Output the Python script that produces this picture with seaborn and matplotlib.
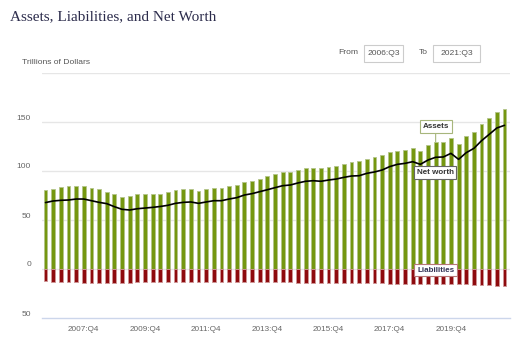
import matplotlib
matplotlib.use("Agg")
import matplotlib.pyplot as plt
import matplotlib.transforms as mtransforms
from matplotlib.patches import Rectangle
import numpy as np
import pandas as pd
import seaborn as sns

# Household balance sheet, quarterly, trillions of dollars (2006:Q3 - 2021:Q3)
start_year, start_q = 2006, 3
assets = [80.6, 81.9, 83.3, 84.4, 85.0, 85.0, 82.7, 81.3, 78.9, 76.5, 73.8, 74.8, 76.2, 76.2, 76.9, 76.9,
          78.2, 80.3, 81.3, 81.3, 79.6, 81.3, 82.7, 82.7, 84.7, 85.7, 88.4, 89.8, 92.2, 95.2, 96.9,
          99.0, 99.0, 101.0, 102.7, 103.4, 102.7, 104.1, 105.4, 107.1, 109.2, 109.9, 112.2, 114.3, 116.7, 119.2,
          120.4, 121.8, 123.8, 120.1, 126.2, 129.6, 129.9, 133.3, 127.2, 136.0, 140.1, 148.0, 154.1, 159.9, 163.0]
liabilities = [-12.7, -12.8, -13.5, -13.6, -13.7, -14.2, -14.3, -14.3, -14.2, -14.0, -13.9,
               -13.8, -13.7, -13.6, -13.5, -13.5, -13.4, -13.4, -13.3, -13.3, -13.3,
               -13.3, -13.3, -13.3, -13.3, -13.3, -13.4, -13.4, -13.5, -13.5, -13.6,
               -13.7, -13.7, -13.8, -13.9, -14.0, -14.0, -14.1, -14.2, -14.3, -14.4,
               -14.5, -14.5, -14.6, -14.7, -14.8, -14.9, -15.0,
               -15.1, -15.2, -15.3, -15.4, -15.5, -15.6, -15.7, -15.8,
               -16.0, -16.3, -16.6, -16.9, -17.2]
net_worth = [67.8, 69.4, 70.1, 70.4, 71.4, 71.4, 69.7, 68.0, 66.7, 63.6, 60.9, 60.2, 61.5, 62.2, 62.9, 63.8,
             65.0, 67.0, 68.0, 68.4, 67.0, 68.4, 69.7, 69.7, 71.4, 72.8, 75.5, 76.9, 78.9, 80.9, 83.0,
             85.0, 85.7, 87.8, 89.5, 90.1, 89.5, 90.8, 91.8, 93.5, 94.9, 95.2, 97.6, 99.0, 101.0, 104.5,
             106.8, 107.8, 109.5, 106.8, 111.2, 114.0, 114.3, 118.0, 111.9, 118.7, 123.1, 130.9, 137.4, 143.9, 146.6]

tick_quarters = ["2007:Q4", "2009:Q4", "2011:Q4", "2013:Q4", "2015:Q4", "2017:Q4", "2019:Q4"]
y_ticks = [150, 100, 50, 0, -50]
y_tick_labels = ["150", "100", "50", "0", "50"]
grid_levels = [200, 150, 100, 50, 0]

quarters = []
y, q = start_year, start_q
for _ in range(len(assets)):
    quarters.append(f"{y}:Q{q}")
    q += 1
    if q > 4:
        q, y = 1, y + 1

df = pd.DataFrame({"idx": np.arange(len(quarters)), "quarter": quarters,
                   "assets": assets, "liabilities": liabilities, "net_worth": net_worth})

sns.set_theme(style="white")
plt.rcParams["font.family"] = ["Liberation Sans", "DejaVu Sans"]

W, H = 512, 342
fig = plt.figure(figsize=(W / 100, H / 100), dpi=100)


def fx(px):
    return px / W


def fy(py):
    return 1 - py / H


ax = fig.add_axes([fx(42), fy(318), fx(510) - fx(42), fy(73) - fy(318)])

green = "#759710"
red = "#8e0b0e"

sns.barplot(data=df, x="idx", y="assets", native_scale=True, width=0.5,
            color=green, saturation=1, edgecolor="#b4c58a", linewidth=0.6, ax=ax, zorder=2)
sns.barplot(data=df, x="idx", y="liabilities", native_scale=True, width=0.5,
            color=red, saturation=1, edgecolor="#cf9797", linewidth=0.6, ax=ax, zorder=2)
sns.lineplot(data=df, x="idx", y="net_worth", color="black", linewidth=1.2, ax=ax, zorder=3)

ax.set_xlim(-0.46, 60.72)
ax.set_ylim(-50, 200)

for g in grid_levels:
    ax.axhline(g, color="#e6e6e6", linewidth=1.0, zorder=1)

for s in ["top", "right", "left"]:
    ax.spines[s].set_visible(False)
ax.spines["bottom"].set_color("#ccd6eb")
ax.spines["bottom"].set_linewidth(1.0)

tick_pos = [quarters.index(t) for t in tick_quarters]
ax.set_xticks(tick_pos)
ax.set_xticklabels(tick_quarters, fontsize=5.9, color="#666666")
ax.tick_params(axis="x", length=4, width=1, color="#ccd6eb", pad=2)

ax.set_yticks(y_ticks)
ax.set_yticklabels(y_tick_labels, fontsize=6.1, color="#666666")
ax.tick_params(axis="y", length=0, pad=8)
shift = mtransforms.ScaledTranslation(0, 5 / 100, fig.dpi_scale_trans)
for lbl in ax.get_yticklabels():
    lbl.set_transform(lbl.get_transform() + shift)

ax.set_xlabel("")
ax.set_ylabel("")

# Series labels
ax.annotate("Assets", xy=(51, assets[51]), xytext=(0, 11), textcoords="offset points",
            ha="center", va="center", fontsize=5.8, fontweight="bold", color="#333333",
            bbox=dict(boxstyle="square,pad=0.35", fc="white", ec="#a7b67c", lw=0.8),
            arrowprops=dict(arrowstyle="-", color="#a7b67c", lw=0.8, shrinkA=0, shrinkB=0),
            zorder=5)
ax.annotate("Net worth", xy=(49, net_worth[49]), xytext=(10.6, -5.8), textcoords="offset points",
            ha="center", va="center", fontsize=5.8, fontweight="bold", color="#333333",
            bbox=dict(boxstyle="square,pad=0.35", fc="white", ec="#666666", lw=0.8), zorder=5)
ax.annotate("Liabilities", xy=(51, 0), xytext=(0, -0.8), textcoords="offset points",
            ha="center", va="center", fontsize=5.8, fontweight="bold", color="#333355",
            bbox=dict(boxstyle="square,pad=0.35", fc="white", ec="#b87878", lw=0.8), zorder=5)

# Header
fig.text(fx(10), fy(17), "Assets, Liabilities, and Net Worth", ha="left", va="center",
         fontsize=11, color="#2c2c4c", family=["Liberation Serif", "DejaVu Serif"])
fig.text(fx(22), fy(62), "Trillions of Dollars", ha="left", va="center", fontsize=6.1, color="#555555")

fig.text(fx(348), fy(53), "From", ha="center", va="center", fontsize=6.1, color="#555555")
fig.text(fx(423), fy(53), "To", ha="center", va="center", fontsize=6.1, color="#555555")
for x0, x1, txt in [(364, 403, quarters[0]), (433, 480, quarters[-1])]:
    fig.add_artist(Rectangle((fx(x0), fy(62)), fx(x1) - fx(x0), fy(45) - fy(62),
                             transform=fig.transFigure, fill=False, ec="#cccccc", lw=0.8))
    fig.text(fx((x0 + x1) / 2), fy(53.5), txt, ha="center", va="center", fontsize=6.1, color="#555555")

fig.savefig("out.png", dpi=100)
